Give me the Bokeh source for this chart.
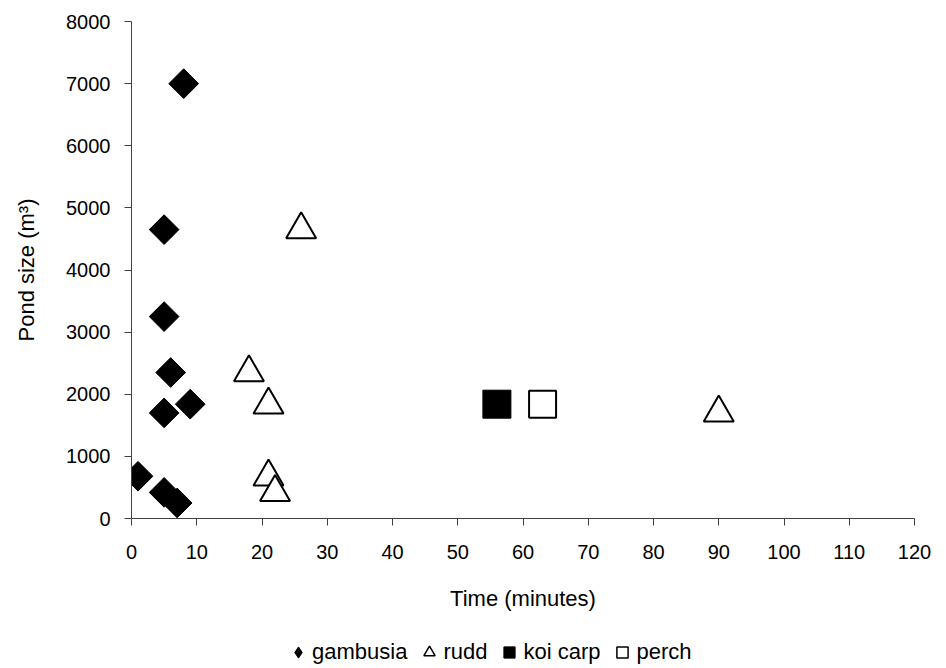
import numpy as np
from bokeh.plotting import figure
from bokeh.layouts import column
from bokeh.models import Range1d, FixedTicker, Legend, LegendItem, ColumnDataSource
from bokeh.embed import file_html
from bokeh.resources import INLINE

# Data
gambusia_time = [8, 5, 5, 6, 5, 9, 1, 5, 7]
gambusia_size = [7000, 4650, 3250, 2350, 1700, 1840, 680, 420, 250]

rudd_time = [26, 18, 21, 21, 22, 90]
rudd_size = [4650, 2350, 1830, 670, 420, 1700]

koi_time = [56]
koi_size = [1840]

perch_time = [63]
perch_size = [1840]

series_names = ["gambusia", "rudd", "koi carp", "perch"]

x_ticks = list(range(0, 121, 10))
y_ticks = list(range(0, 8001, 1000))

FONT = "Liberation Sans"

p = figure(width=946, height=620, output_backend="svg", toolbar_location=None,
           x_range=Range1d(0, 120), y_range=Range1d(0, 8000),
           min_border_left=131, min_border_right=32, min_border_top=21,
           min_border_bottom=102)
p.outline_line_color = None
p.grid.visible = False
p.background_fill_color = "white"
p.border_fill_color = "white"

for ax in (p.xaxis[0], p.yaxis[0]):
    ax.axis_line_color = "#404040"
    ax.major_tick_line_color = "#404040"
    ax.minor_tick_line_color = None
    ax.major_tick_out = 7
    ax.major_tick_in = 0
    ax.major_label_text_font = FONT
    ax.major_label_text_font_size = "20px"
    ax.major_label_text_color = "black"
    ax.axis_label_text_font = FONT
    ax.axis_label_text_font_size = "22px"
    ax.axis_label_text_font_style = "normal"
    ax.axis_label_text_color = "black"

p.xaxis.ticker = FixedTicker(ticks=x_ticks)
p.yaxis.ticker = FixedTicker(ticks=y_ticks)
p.xaxis.major_label_standoff = 19
p.yaxis.major_label_standoff = 14
p.xaxis.axis_label = "Time (minutes)"
p.yaxis.axis_label = "Pond size (m³)"
p.xaxis.axis_label_standoff = 24
p.yaxis.axis_label_standoff = 24

src_g = ColumnDataSource(dict(x=gambusia_time, y=gambusia_size))
src_r = ColumnDataSource(dict(x=rudd_time, y=rudd_size))
src_k = ColumnDataSource(dict(x=koi_time, y=koi_size))
src_p = ColumnDataSource(dict(x=perch_time, y=perch_size))

p.scatter("x", "y", source=src_g, marker="square", angle=np.pi / 4, size=21,
          fill_color="black", line_color="black", line_width=1)
p.scatter("x", "y", source=src_r, marker="triangle", size=30,
          fill_color="white", line_color="black", line_width=2)
p.scatter("x", "y", source=src_k, marker="square", size=28,
          fill_color="black", line_color="black", line_width=1)
p.scatter("x", "y", source=src_p, marker="square", size=27,
          fill_color="white", line_color="black", line_width=2)

# Legend strip below the chart: hidden renderers of the same sources supply
# the legend swatches, nothing is drawn in this strip except the legend.
lg = figure(width=946, height=48, output_backend="svg", toolbar_location=None,
            x_range=Range1d(0, 1), y_range=Range1d(0, 1), min_border=0,
            x_axis_location=None, y_axis_location=None)
lg.outline_line_color = None
lg.grid.visible = False
lg.background_fill_color = "white"
lg.border_fill_color = "white"

l_g = lg.scatter("x", "y", source=src_g, marker="diamond", visible=False,
                 fill_color="black", line_color="black", line_width=1)
l_r = lg.scatter("x", "y", source=src_r, marker="triangle", visible=False,
                 fill_color="white", line_color="black", line_width=1.5)
l_k = lg.scatter("x", "y", source=src_k, marker="square", visible=False,
                 fill_color="black", line_color="black", line_width=1)
l_p = lg.scatter("x", "y", source=src_p, marker="square", visible=False,
                 fill_color="white", line_color="black", line_width=1.5)

legend = Legend(items=[LegendItem(label=n, renderers=[r], index=0)
                       for n, r in zip(series_names, [l_g, l_r, l_k, l_p])],
                orientation="horizontal", location=(153, 2),
                glyph_width=28, glyph_height=28, label_standoff=0, spacing=8,
                label_text_font=FONT, label_text_font_size="22px",
                label_text_color="black",
                border_line_color=None, background_fill_alpha=0,
                padding=0, margin=0)
lg.add_layout(legend, "center")

layout = column(p, lg, spacing=0)
open("out.html", "w").write(file_html(layout, INLINE))
